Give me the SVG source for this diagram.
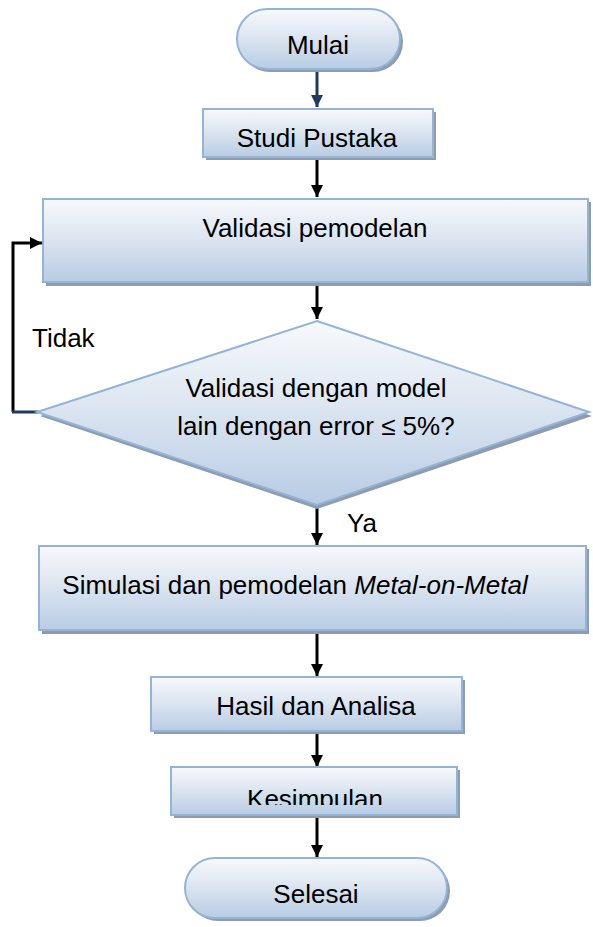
<svg xmlns="http://www.w3.org/2000/svg" width="593" height="927" viewBox="0 0 593 927">
<style>
.shape{fill:url(#g);stroke:#95B3D7;stroke-width:2}
.shadow{fill:#8E9CB0}
.t{font-family:"Liberation Sans",Arial,sans-serif;font-size:26px;fill:#000;text-anchor:middle}
.s{text-anchor:start}
.c{stroke:#000;stroke-width:3;fill:none}
</style>
<defs>
<linearGradient id="g" x1="0" y1="0" x2="0" y2="1">
<stop offset="0" stop-color="#F7F9FC"/>
<stop offset="0.45" stop-color="#DDE6F1"/>
<stop offset="1" stop-color="#B8CCE4"/>
</linearGradient>
<marker id="a" viewBox="0 0 10 10" refX="10" refY="5" markerWidth="4" markerHeight="4" orient="auto" markerUnits="strokeWidth">
<path d="M0,0 L10,5 L0,10 z" fill="#000"/>
</marker>
<marker id="an" viewBox="0 0 10 10" refX="10" refY="5" markerWidth="4" markerHeight="4" orient="auto" markerUnits="strokeWidth">
<path d="M0,0 L10,5 L0,10 z" fill="#1F3A60"/>
</marker>
<clipPath id="kc"><rect x="170" y="766" width="290" height="39"/></clipPath>
</defs>
<g id="connectors">
<line x1="317" y1="71" x2="317" y2="107" stroke="#1F3A60" stroke-width="3" marker-end="url(#an)"/>
<line class="c" x1="317" y1="160" x2="317" y2="197" marker-end="url(#a)"/>
<line class="c" x1="317" y1="285" x2="317" y2="319" marker-end="url(#a)"/>
<polyline class="c" points="13,412 13,243 42,243" marker-end="url(#a)"/>
<line x1="12" y1="412" x2="38" y2="412" stroke="#1F3A60" stroke-width="3"/>
<line class="c" x1="317" y1="507" x2="317" y2="545" marker-end="url(#a)"/>
<line class="c" x1="317" y1="634" x2="317" y2="676" marker-end="url(#a)"/>
<line class="c" x1="317" y1="734" x2="317" y2="767" marker-end="url(#a)"/>
<line class="c" x1="317" y1="818" x2="317" y2="857" marker-end="url(#a)"/>
<text class="t s" x="32" y="347">Tidak</text>
<text class="t s" x="347" y="532" font-size="24">Ya</text>
</g>
<g id="mulai">
<rect class="shadow" x="240" y="12" width="163" height="60" rx="30"/>
<rect class="shape" x="237" y="9" width="163" height="60" rx="30"/>
<text class="t" x="318" y="54">Mulai</text>
</g>
<g id="studi">
<rect class="shadow" x="206" y="112" width="230" height="48"/>
<rect class="shape" x="203" y="109" width="230" height="48"/>
<text class="t" x="317" y="147">Studi Pustaka</text>
</g>
<g id="validasi">
<rect class="shadow" x="46" y="202" width="545" height="84"/>
<rect class="shape" x="43" y="199" width="545" height="83"/>
<text class="t" x="315" y="237">Validasi pemodelan</text>
</g>
<g id="decision">
<polygon class="shadow" points="317,324 592,416 317,509 40,416"/>
<polygon class="shape" points="317,321 589,412 317,505 37,412"/>
<text class="t" x="316" y="397" font-size="24">Validasi dengan model</text>
<text class="t" x="316" y="435" font-size="24">lain dengan error ≤ 5%?</text>
</g>
<g id="simulasi">
<rect class="shadow" x="42" y="549" width="547" height="85"/>
<rect class="shape" x="39" y="546" width="547" height="84"/>
<text class="t" x="295" y="594" font-size="24.3">Simulasi dan pemodelan <tspan font-style="italic">Metal-on-Metal</tspan></text>
</g>
<g id="hasil">
<rect class="shadow" x="154" y="680" width="311" height="54"/>
<rect class="shape" x="151" y="677" width="311" height="54"/>
<text class="t" x="316" y="715">Hasil dan Analisa</text>
</g>
<g id="kesimpulan">
<rect class="shadow" x="174" y="770" width="286" height="48"/>
<rect class="shape" x="171" y="767" width="286" height="48"/>
<text class="t" x="315" y="808" clip-path="url(#kc)">Kesimpulan</text>
</g>
<g id="selesai">
<rect class="shadow" x="188" y="861" width="262" height="60" rx="30"/>
<rect class="shape" x="185" y="858" width="262" height="60" rx="30"/>
<text class="t" x="316" y="903">Selesai</text>
</g>
</svg>
